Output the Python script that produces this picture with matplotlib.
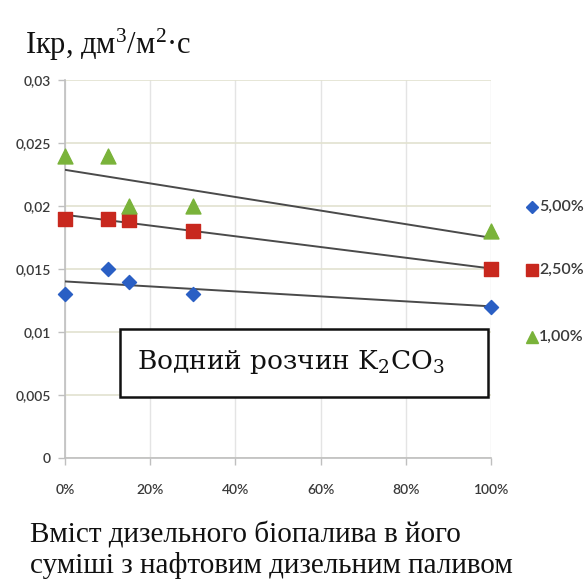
import numpy as np
import matplotlib
matplotlib.use("Agg")
import matplotlib.pyplot as plt
from matplotlib.patches import Rectangle
from matplotlib.ticker import FuncFormatter

plt.rcParams["mathtext.fontset"] = "custom"
plt.rcParams["mathtext.rm"] = "Liberation Serif"
plt.rcParams["mathtext.it"] = "Liberation Serif"

# Biodiesel share in the blend (fraction)
x_share = [0.0, 0.10, 0.15, 0.30, 1.00]

# Critical flux, dm3/(m2*s), for each K2CO3 concentration
flux_5 = [0.013, 0.015, 0.014, 0.013, 0.012]
flux_2_5 = [0.019, 0.019, 0.0189, 0.018, 0.015]
flux_1 = [0.024, 0.024, 0.020, 0.020, 0.018]

series_labels = ["5,00%", "2,50%", "1,00%"]
y_ticks = [0, 0.005, 0.01, 0.015, 0.02, 0.025, 0.03]
y_tick_labels = ["0", "0,005", "0,01", "0,015", "0,02", "0,025", "0,03"]
x_ticks = [0, 0.2, 0.4, 0.6, 0.8, 1.0]

W, H = 585, 588
fig = plt.figure(figsize=(W / 100, H / 100), dpi=100)
ax = fig.add_axes([65 / W, 1 - 458 / H, 426 / W, 378 / H])

ax.set_xlim(0, 1)
ax.set_ylim(0, 0.03)
ax.set_yticks(y_ticks)
ax.set_yticklabels(y_tick_labels)
ax.set_xticks(x_ticks)
ax.xaxis.set_major_formatter(FuncFormatter(lambda v, p: f"{v * 100:.0f}%"))

for s in ["top", "right"]:
    ax.spines[s].set_visible(False)
for s in ["left", "bottom"]:
    ax.spines[s].set_color("#bfbfbf")
    ax.spines[s].set_linewidth(1.2)

ax.grid(axis="y", color="#e2e2cf", linewidth=1.2)
ax.grid(axis="x", color="#e4e4e4", linewidth=1.0)
ax.set_axisbelow(True)
ax.tick_params(axis="both", colors="#bfbfbf", length=5, width=1.0,
               labelcolor="#3a3a3a", labelsize=10)
ax.tick_params(axis="y", pad=5)
ax.tick_params(axis="x", pad=14)
for lab in ax.get_xticklabels() + ax.get_yticklabels():
    lab.set_fontfamily("Lato")
    lab.set_fontweight("semibold")

styles = [
    (flux_5, "D", "#2a5fc4", 8),
    (flux_2_5, "s", "#c8281e", 11),
    (flux_1, "^", "#7ab33a", 12),
]

xs = np.array(x_share)
for (vals, marker, color, size), lab in zip(styles, series_labels):
    k, b = np.polyfit(xs, np.array(vals), 1)
    line_x = np.array([0.0, 1.0])
    ax.plot(line_x, k * line_x + b, color="#4a4a4a", linewidth=1.4, zorder=3)
    ax.scatter(xs, vals, marker=marker, s=size ** 2 * 0.8, color=color,
               zorder=4, clip_on=False, label=lab)

# Legend entries placed to the right of the plot
legend_y = [207, 270, 337]
legend_size = [6, 8, 9]
for (vals, marker, color, size), lab, py, ms in zip(styles, series_labels, legend_y, legend_size):
    fy = 1 - py / H
    fig.lines.append(plt.Line2D([532 / W], [fy], marker=marker, markersize=ms,
                                color=color, linestyle="none",
                                transform=fig.transFigure))
    fig.text(539 / W, fy, lab, fontsize=11.5, color="#3a3a3a", family="Lato",
             fontweight="semibold", va="center", ha="left")

# Solution label box
fig.patches.append(Rectangle((120 / W, 1 - 397 / H), 368 / W, 68 / H,
                             transform=fig.transFigure, facecolor="white",
                             edgecolor="#111111", linewidth=1.8, zorder=5))
fig.text(137 / W, 1 - 362 / H, "Водний розчин K$_2$CO$_3$", fontsize=19,
         family="DejaVu Serif", math_fontfamily="dejavuserif",
         va="center", ha="left", zorder=6, color="#111111")

fig.text(25 / W, 1 - 45 / H, "Iкр, дм$^3$/м$^2$·с", fontsize=22,
         family="Liberation Serif", math_fontfamily="custom",
         va="center", ha="left", color="#111111")

fig.text(30 / W, 1 - 550 / H,
         "Вміст дизельного біопалива в його\nсуміші з нафтовим дизельним паливом",
         fontsize=21, family="Liberation Serif", va="center", ha="left",
         linespacing=1.15, color="#111111")

fig.savefig("out.png", dpi=100, facecolor="white")
